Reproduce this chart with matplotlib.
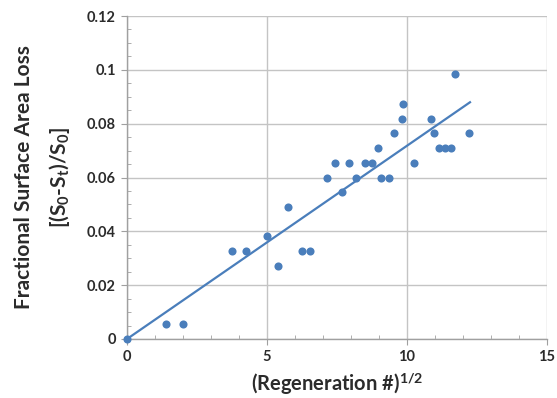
import numpy as np
import matplotlib
matplotlib.use("Agg")
import matplotlib.pyplot as plt
from matplotlib.ticker import MultipleLocator, FixedLocator

# Data
x_vals = [0.0, 1.40, 2.00, 3.74, 4.24, 5.01, 5.39, 5.75, 6.24, 6.55,
          7.15, 7.42, 7.69, 7.93, 8.19, 8.49, 8.74, 8.95, 9.06, 9.34,
          9.55, 9.82, 9.87, 10.25, 10.87, 10.98, 11.16, 11.37, 11.58, 11.71, 12.21]
y_vals = [0.0, 0.0055, 0.0055, 0.0327, 0.0327, 0.0383, 0.0272, 0.0490, 0.0327, 0.0327,
          0.0600, 0.0655, 0.0545, 0.0655, 0.0600, 0.0655, 0.0655, 0.0711, 0.0600, 0.0600,
          0.0764, 0.0818, 0.0873, 0.0655, 0.0818, 0.0764, 0.0711, 0.0711, 0.0711, 0.0984, 0.0764]
trend_slope = 0.00718
trend_x_range = [0.0, 12.25]

x_ticks = [0, 5, 10, 15]
x_tick_labels = ["0", "5", "10", "15"]
y_ticks = [0, 0.02, 0.04, 0.06, 0.08, 0.10, 0.12]
y_tick_labels = ["0", "0.02", "0.04", "0.06", "0.08", "0.1", "0.12"]

blue = "#4a7ebb"
grid_c = "#c4c4c4"
text_c = "#2b2b2b"

plt.rcParams['font.family'] = ['Lato', 'DejaVu Sans']
plt.rcParams['mathtext.fontset'] = 'custom'
plt.rcParams['mathtext.rm'] = 'Lato:bold'
plt.rcParams['mathtext.bf'] = 'Lato:bold'
plt.rcParams['mathtext.it'] = 'Lato:bold'

fig = plt.figure(figsize=(5.57, 3.98), dpi=100)
ax = fig.add_axes([127/557, 1-339/398, 420/557, 323/398])

tx = np.array(trend_x_range)
ax.plot(tx, trend_slope * tx, color=blue, lw=1.6, zorder=3)
ax.scatter(x_vals, y_vals, s=34, color=blue, zorder=4, clip_on=False, linewidths=0)

ax.set_xlim(0, 15)
ax.set_ylim(0, 0.12)
ax.xaxis.set_major_locator(FixedLocator(x_ticks))
ax.set_xticklabels(x_tick_labels)
ax.yaxis.set_major_locator(FixedLocator(y_ticks))
ax.set_yticklabels(y_tick_labels)
ax.xaxis.set_minor_locator(MultipleLocator(1))
ax.yaxis.set_minor_locator(MultipleLocator(0.005))

ax.grid(True, which='major', color=grid_c, lw=1.0)
ax.set_axisbelow(True)
for s in ['top', 'right']:
    ax.spines[s].set_visible(False)
for s in ['left', 'bottom']:
    ax.spines[s].set_color('#a0a0a0')
    ax.spines[s].set_linewidth(1.0)

ax.tick_params(which='major', direction='out', length=4, color='#a0a0a0',
               labelsize=10.5, labelcolor=text_c, pad=4)
ax.tick_params(which='minor', direction='in', length=3, color='#a0a0a0')
for lab in ax.get_xticklabels() + ax.get_yticklabels():
    lab.set_fontweight('bold')

ax.set_xlabel(r"(Regeneration #)$^{1/2}$", fontsize=14.5, fontweight='bold',
              color=text_c, labelpad=4)
ax.set_ylabel("Fractional Surface Area Loss\n[(S$_0$-S$_t$)/S$_0$]",
              fontsize=15, fontweight='bold', color=text_c, labelpad=11, linespacing=1.65)

fig.savefig("out.png", dpi=100)
